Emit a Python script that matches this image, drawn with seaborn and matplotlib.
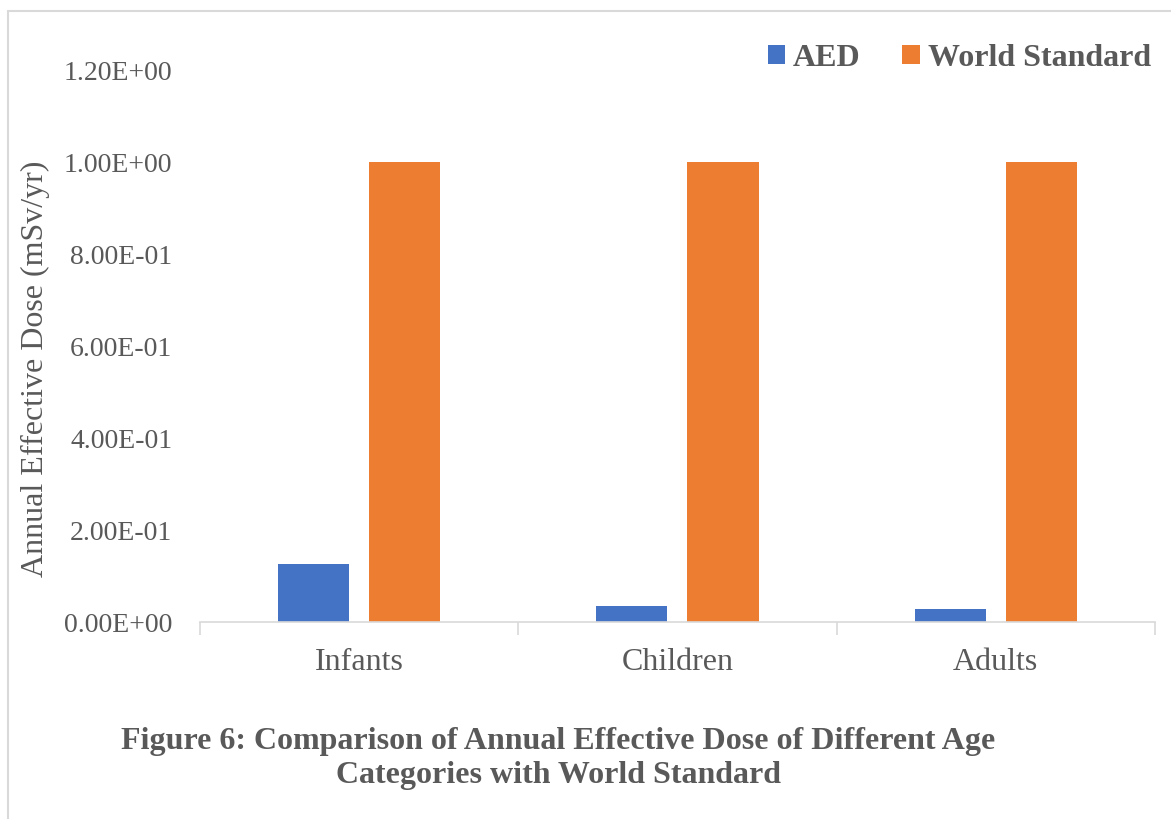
import matplotlib
matplotlib.use("Agg")
import matplotlib.pyplot as plt
from matplotlib.lines import Line2D
from matplotlib.patches import Patch
from matplotlib.ticker import FixedLocator, FuncFormatter
import seaborn as sns
import pandas as pd

categories = ["Infants", "Children", "Adults"]
aed = [0.127, 0.034, 0.029]
world_standard = [1.0, 1.0, 1.0]
series_names = ["AED", "World Standard"]
colors = ["#4472C4", "#ED7D31"]

df = pd.DataFrame({
    "Category": categories * 2,
    "Value": aed + world_standard,
    "Series": [series_names[0]] * 3 + [series_names[1]] * 3,
})

sns.set_theme(style="white")
plt.rcParams["font.family"] = ["Liberation Serif", "DejaVu Serif"]

text_gray = "#595959"

fig = plt.figure(figsize=(11.71, 8.19), dpi=100)
ax = fig.add_axes([0.1708, 0.2405, 0.8155, 0.674])

sns.barplot(data=df, x="Category", y="Value", hue="Series", order=categories,
            hue_order=series_names, palette=colors, width=0.572, gap=0.22,
            saturation=1, ax=ax, legend=False, linewidth=0)

ax.set_xlim(-0.5, 2.5)
ax.set_ylim(0, 1.2)
ax.set_yticks([0, 0.2, 0.4, 0.6, 0.8, 1.0, 1.2])
ax.yaxis.set_major_formatter(FuncFormatter(lambda v, _: f"{v:.2E}"))
ax.tick_params(axis="y", labelsize=20, labelcolor=text_gray, length=0, pad=20)
ax.tick_params(axis="x", which="major", labelsize=23, labelcolor=text_gray, length=0, pad=19)
ax.xaxis.set_minor_locator(FixedLocator([-0.5, 0.5, 1.5, 2.5]))
ax.tick_params(axis="x", which="minor", length=9, width=1.2, color="#D9D9D9", bottom=True)

for side in ["top", "right", "left"]:
    ax.spines[side].set_visible(False)
ax.spines["bottom"].set_color("#D9D9D9")
ax.spines["bottom"].set_linewidth(1.2)

ax.set_xlabel("")
ax.set_ylabel("Annual Effective Dose (mSv/yr)", fontsize=23, color=text_gray,
              va="center")
ax.yaxis.set_label_coords(-0.172, 0.458)

handles = [Patch(facecolor=c, edgecolor="none") for c in colors]
leg = fig.legend(handles, series_names, loc="center right", bbox_to_anchor=(1.0075, 0.929),
                 ncol=2, frameon=False, handlelength=0.55, handleheight=0.55,
                 handletextpad=0.25, columnspacing=1.3,
                 prop={"family": "Liberation Serif", "weight": "bold", "size": 23})
for t in leg.get_texts():
    t.set_color(text_gray)

fig.text(0.477, 0.074, "Figure 6: Comparison of Annual Effective Dose of Different Age\nCategories with World Standard",
         ha="center", va="center", fontsize=23, fontweight="bold", color=text_gray,
         linespacing=1.2)

# light outer frame on the left and top edges
fig.add_artist(Line2D([0.0068, 0.0068], [0.0, 0.9866], transform=fig.transFigure,
                      color="#D9D9D9", linewidth=1.5))
fig.add_artist(Line2D([0.0068, 1.0], [0.9866, 0.9866], transform=fig.transFigure,
                      color="#D9D9D9", linewidth=1.5))

fig.savefig("out.png", dpi=100, facecolor="white")
